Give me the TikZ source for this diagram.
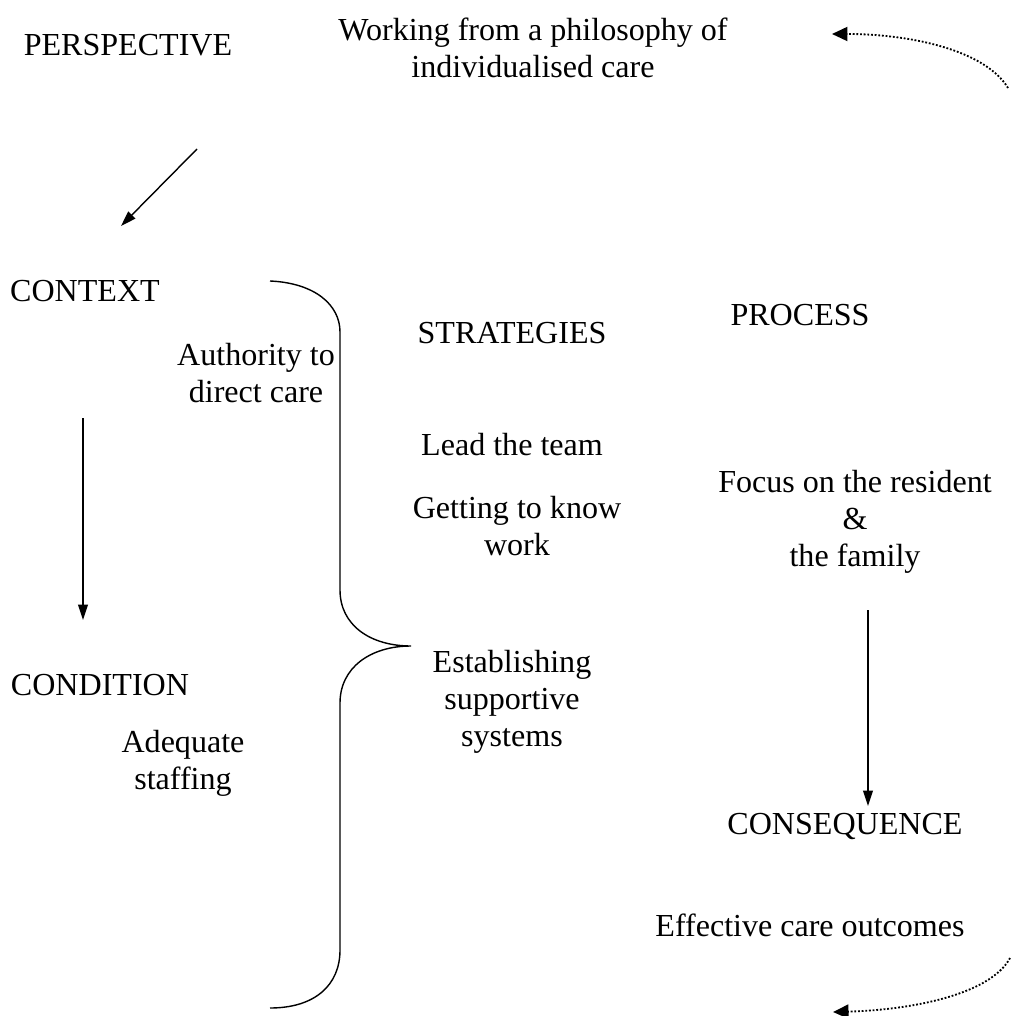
\documentclass[tikz,border=0pt]{standalone}
\usepackage{fontspec}
\setmainfont{Liberation Serif}
\usetikzlibrary{arrows.meta}
\begin{document}
\begin{tikzpicture}[x=0.025cm, y=-0.025cm,
		every node/.style={font=\fontsize{22.8}{26.3}\selectfont, align=center, inner sep=0pt},
		flow/.style={line width=1pt, -{Triangle[length=11pt, width=7pt]}},
		loopback/.style={line width=1.3pt, dash pattern=on 1.3pt off 1.3pt, -{Triangle[length=11pt, width=10pt]}}]
		\useasboundingbox (0,0) rectangle (1011,1016);

		\node (persp) at (128,45) {PERSPECTIVE};
		\node (philo) at (533,48) {Working from a philosophy of\\individualised care};
		\node (context) at (85,291) {CONTEXT};
		\node (authority) at (256,373) {Authority to\\direct care};
		\node (strat) at (512,333) {STRATEGIES};
		\node (process) at (800,315) {PROCESS};
		\node (lead) at (512,445) {Lead the team};
		\node (focus) at (855,522) {Focus on the resident\\\&\\the family};
		\node (getting) at (517,526) {Getting to know\\work};
		\node (establish) at (512,702) {Establishing\\supportive\\systems};
		\node (condition) at (100,685) {CONDITION};
		\node (staffing) at (183,763) {Adequate\\staffing};
		\node (conseq) at (845,826) {CONSEQUENCE};
		\node (outcomes) at (810,925) {Effective care outcomes};

		% arrows
		\coordinate (pa) at (197,149);
		\coordinate (pb) at (121,226);
		\coordinate (ca) at (83,418);
		\coordinate (cb) at (83,620);
		\coordinate (fa) at (868,610);
		\coordinate (fb) at (868,806);
		\draw[flow] (pa) -- (pb);
		\draw[flow] (ca) -- (cb);
		\draw[flow] (fa) -- (fb);

		% brace
		\draw[line width=1pt] (270,281) .. controls (315,283) and (340,305) .. (340,332) -- (340,590)
			.. controls (340,625) and (370,646) .. (411,646)
			.. controls (370,646) and (340,668) .. (340,703) -- (340,950)
			.. controls (340,985) and (315,1008) .. (270,1008);

		% dotted loop
		\coordinate (ta) at (1008,88);
		\coordinate (tb) at (832,34);
		\coordinate (ba) at (1010,958);
		\coordinate (bb) at (833,1012);
		\draw[loopback] (ta) .. controls (985,50) and (910,34) .. (tb);
		\draw[loopback] (ba) .. controls (990,995) and (910,1010) .. (bb);
	\end{tikzpicture}
\end{document}
